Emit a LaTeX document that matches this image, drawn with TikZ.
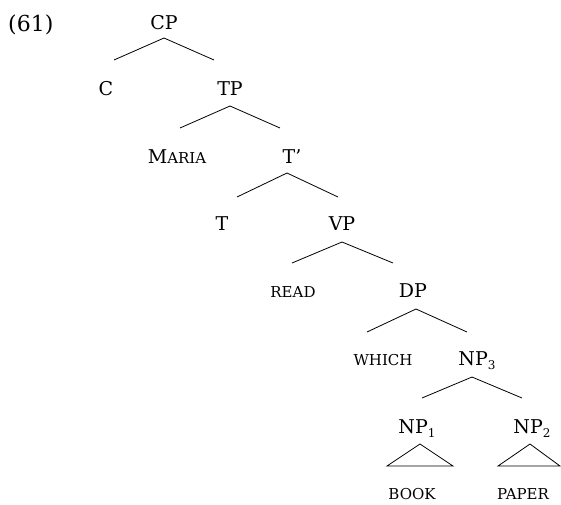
\documentclass[tikz,border=0pt]{standalone}
\usepackage{fontspec}
\setmainfont{DejaVu Serif}
\newcommand\mysc[1]{{\fontsize{15}{17}\selectfont #1}}
\newcommand\mysub[1]{\raisebox{-4.5pt}{\fontsize{12}{14}\selectfont #1}}
\begin{document}
\begin{tikzpicture}[x=1pt,y=-1pt,
  lab/.style={inner sep=0pt, anchor=base, font=\fontsize{19}{22}\selectfont},
  edge/.style={line width=0.8pt}]
\useasboundingbox (0,0) rectangle (561,504);
\node[lab, anchor=base west, font=\fontsize{22}{26}\selectfont] (ex) at (8,31) {(61)};
% labels
\node[lab] (CP) at (164,29) {CP};
\node[lab] (C) at (106,95) {C};
\node[lab] (TP) at (230,95) {TP};
\node[lab] (Maria) at (177,163) {M\mysc{ARIA}};
\node[lab] (Tbar) at (292,163) {T'};
\node[lab] (T) at (222,230) {T};
\node[lab] (VP) at (342,230) {VP};
\node[lab] (read) at (293,297) {\mysc{READ}};
\node[lab] (DP) at (413,297) {DP};
\node[lab] (which) at (383,365) {\mysc{WHICH}};
\node[lab] (NPc) at (477,365) {NP\mysub{3}};
\node[lab] (NPa) at (417,433) {NP\mysub{1}};
\node[lab] (NPb) at (532,433) {NP\mysub{2}};
\node[lab] (book) at (412,499) {\mysc{BOOK}};
\node[lab] (paper) at (523,499) {\mysc{PAPER}};
% edge points
\coordinate (CPa) at (164,38);  \coordinate (CPl) at (114,60);  \coordinate (CPr) at (214,60);
\coordinate (TPa) at (230,106); \coordinate (TPl) at (180,128); \coordinate (TPr) at (280,128);
\coordinate (Tba) at (287,173); \coordinate (Tbl) at (237,197); \coordinate (Tbr) at (338,197);
\coordinate (VPa) at (342,242); \coordinate (VPl) at (292,263); \coordinate (VPr) at (393,263);
\coordinate (DPa) at (416,309); \coordinate (DPl) at (367,332); \coordinate (DPr) at (467,332);
\coordinate (N3a) at (472,377); \coordinate (N3l) at (422,398); \coordinate (N3r) at (522,398);
\coordinate (N1a) at (420,444); \coordinate (N1l) at (387,466); \coordinate (N1r) at (453,466);
\coordinate (N2a) at (530,444); \coordinate (N2l) at (498,466); \coordinate (N2r) at (560,466);
\draw[edge] (CPl) -- (CPa) -- (CPr);
\draw[edge] (TPl) -- (TPa) -- (TPr);
\draw[edge] (Tbl) -- (Tba) -- (Tbr);
\draw[edge] (VPl) -- (VPa) -- (VPr);
\draw[edge] (DPl) -- (DPa) -- (DPr);
\draw[edge] (N3l) -- (N3a) -- (N3r);
\draw[edge] (N1l) -- (N1a) -- (N1r) -- cycle;
\draw[edge] (N2l) -- (N2a) -- (N2r) -- cycle;
\end{tikzpicture}
\end{document}
